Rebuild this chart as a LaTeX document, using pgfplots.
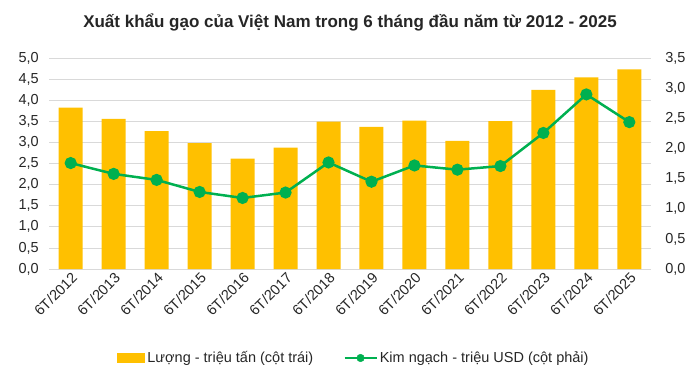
\documentclass[border=0pt]{standalone}
\usepackage{fontspec}
\setmainfont{Liberation Sans}
\usepackage{pgfplots}
\pgfplotsset{compat=1.18}
\definecolor{barc}{HTML}{FFC000}
\definecolor{linec}{HTML}{00B050}
\definecolor{gridc}{HTML}{D9D9D9}
\definecolor{txt}{HTML}{262626}
\pgfplotsset{
  common/.style={
    at={(49.2pt,117pt)}, anchor=south west,
    scale only axis, width=601.6pt, height=210.7pt,
    xmin=-0.5, xmax=13.5,
    major tick length=0pt,
    axis line style={draw=none},
    tick label style={text=txt, font=\fontsize{14.5}{16}\selectfont},
    /pgf/number format/fixed,
    /pgf/number format/fixed zerofill,
    /pgf/number format/precision=1,
    /pgf/number format/use comma,
    /pgf/number format/assume math mode=true,
    scaled y ticks=false,
  }
}
\pgfplotstableread{
x q v
0 3.83 1.76
1 3.56 1.58
2 3.27 1.48
3 2.99 1.28
4 2.62 1.18
5 2.88 1.27
6 3.50 1.77
7 3.37 1.45
8 3.52 1.72
9 3.04 1.65
10 3.51 1.71
11 4.25 2.26
12 4.55 2.90
13 4.74 2.44
}\datatable
\begin{document}
\begin{tikzpicture}[x=1pt,y=1pt]
\path[use as bounding box] (0,0) rectangle (700,386);
\node[font=\fontsize{17}{20}\selectfont\bfseries, text=txt] at (350,364) {Xuất khẩu gạo của Việt Nam trong 6 tháng đầu năm từ 2012 - 2025};
\begin{axis}[common,
  ymin=0, ymax=5,
  ytick={0,0.5,1,1.5,2,2.5,3,3.5,4,4.5,5},
  axis y line*=left, axis x line*=bottom,
  yticklabel style={xshift=-7pt},
  ymajorgrids, grid style={gridc, line width=0.8pt},
  xtick={0,...,13},
  xticklabels={6T/2012,6T/2013,6T/2014,6T/2015,6T/2016,6T/2017,6T/2018,6T/2019,6T/2020,6T/2021,6T/2022,6T/2023,6T/2024,6T/2025},
  x tick label style={rotate=45, anchor=north east, inner sep=1pt, font=\fontsize{14.5}{16}\selectfont},
  xticklabel shift=1pt,
  legend columns=2,
  legend style={at={(0.5066,-0.4224)}, anchor=center, draw=none, fill=none,
    font=\fontsize{14.5}{16}\selectfont, text=txt,
    nodes={inner sep=2pt},
    /tikz/every even column/.append style={column sep=28pt}},
]
\addplot[ybar, bar width=24pt, fill=barc, draw=none,
  legend image code/.code={\fill[barc] (0pt,-5pt) rectangle (28pt,5pt);}]
  table[x=x,y=q]{\datatable};
\addlegendentry{Lượng - triệu tấn (cột trái)}
\addlegendimage{legend image code/.code={\draw[linec, line width=2.5pt] (0pt,0pt) -- (32pt,0pt); \fill[linec] (16pt,0pt) circle (3.8pt);}}
\addlegendentry{Kim ngạch - triệu USD (cột phải)}
\end{axis}
\begin{axis}[common,
  ymin=0, ymax=3.5,
  ytick={0,0.5,1,1.5,2,2.5,3,3.5},
  axis y line*=right, axis x line=none,
  yticklabel style={xshift=11pt},
]
\addplot[linec, line width=2.5pt, mark=*, mark size=4.8pt, mark options={solid, fill=linec, draw=none}]
  table[x=x,y=v]{\datatable};
\end{axis}
\end{tikzpicture}
\end{document}
